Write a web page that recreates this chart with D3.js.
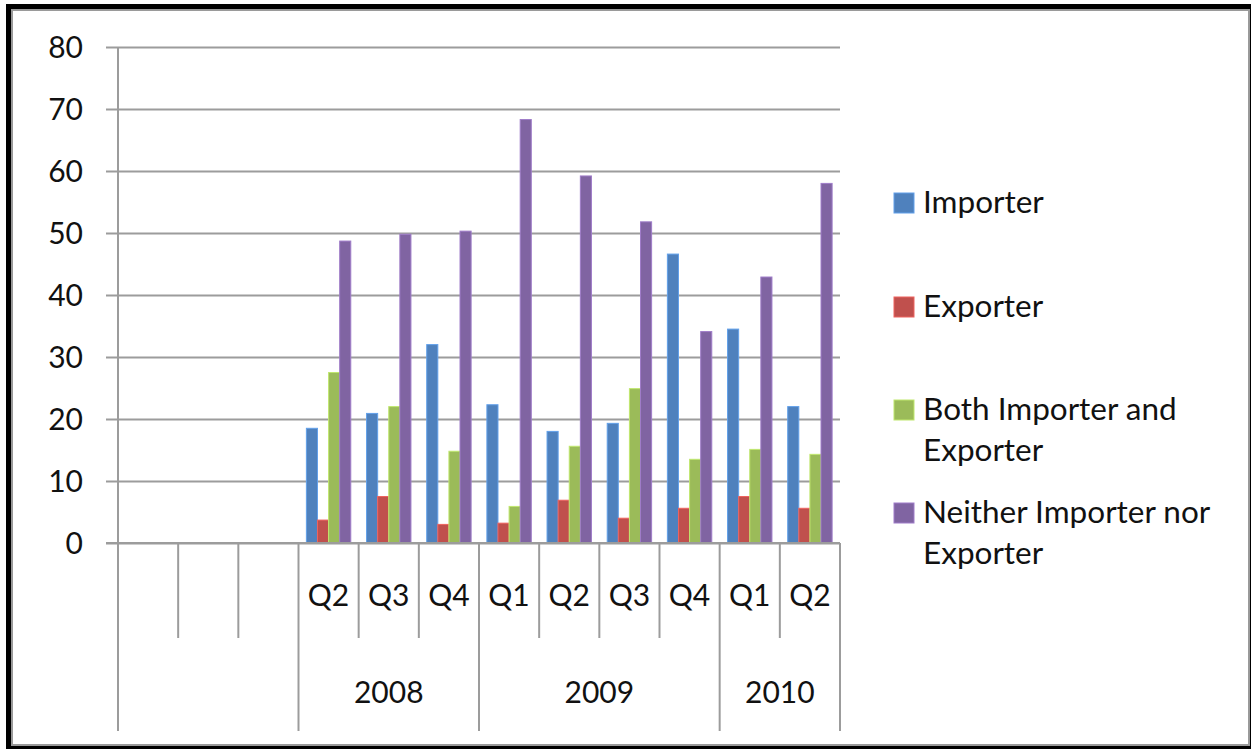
<!DOCTYPE html>
<html>
<head>
<meta charset="utf-8">
<script src="https://cdn.jsdelivr.net/npm/d3@7"></script>
<style>
  html, body { margin: 0; padding: 0; background: #fff; }
  svg { display: block; }
  text { font-family: Lato, "Open Sans", sans-serif; fill: #111; }
</style>
</head>
<body>
<svg id="chart" width="1251" height="749"></svg>
<script>
// Category axis: quarter per slot, plus the year each slot belongs to
const quarterLabels = ["", "", "", "Q2", "Q3", "Q4", "Q1", "Q2", "Q3", "Q4", "Q1", "Q2"];
const yearOf        = ["", "", "", "2008", "2008", "2008", "2009", "2009", "2009", "2009", "2010", "2010"];

// Series values (percent)
const importer = [null, null, null, 18.5, 20.9, 32.0, 22.3, 18.0, 19.3, 46.6, 34.5, 22.0];
const exporter = [null, null, null, 3.7, 7.5, 3.0, 3.2, 6.9, 4.0, 5.6, 7.5, 5.6];
const both     = [null, null, null, 27.5, 22.0, 14.8, 5.9, 15.6, 24.9, 13.5, 15.1, 14.3];
const neither  = [null, null, null, 48.7, 49.8, 50.3, 68.3, 59.2, 51.8, 34.1, 42.9, 58.0];

const seriesNames  = ["Importer", "Exporter", "Both Importer and Exporter", "Neither Importer nor Exporter"];
const legendLines  = [["Importer"], ["Exporter"], ["Both Importer and", "Exporter"], ["Neither Importer nor", "Exporter"]];
const seriesColors = ["#4F81BD", "#C0504D", "#9BBB59", "#8064A2"];
const yTicks = [0, 10, 20, 30, 40, 50, 60, 70, 80];

const seriesValues = [importer, exporter, both, neither];

const svg = d3.select("#chart");
const W = 1251, H = 749;

// Frame: black outer band with a grey inner rule
svg.append("rect").attr("x", 6).attr("y", 4).attr("width", W - 6).attr("height", H - 4).attr("fill", "#000");
svg.append("rect").attr("x", 12).attr("y", 10).attr("width", 1237).attr("height", 735)
  .attr("fill", "#fff").attr("stroke", "#9a9a9a").attr("stroke-width", 2);

const plotLeft = 118, plotRight = 840, plotTop = 47, plotBottom = 543;
const gridColor = "#9c9c9c";
const axisFont = 30, legendFont = 31.5;

const x = d3.scaleBand().domain(d3.range(quarterLabels.length)).range([plotLeft, plotRight]);
const xs = d3.scaleBand().domain(d3.range(seriesNames.length)).range([0, x.bandwidth()]).paddingOuter(0.71);
const y = d3.scaleLinear().domain([0, 80]).range([plotBottom, plotTop]);

// Horizontal gridlines with outer ticks
const yAxis = d3.axisLeft(y).tickValues(yTicks).tickSize(-(plotRight - plotLeft)).tickPadding(22);
const gy = svg.append("g").attr("transform", `translate(${plotLeft},0)`).call(yAxis);
gy.select(".domain").remove();
gy.selectAll(".tick line").attr("stroke", gridColor).attr("stroke-width", 2).attr("x1", -12);
gy.selectAll(".tick text").attr("font-size", axisFont).attr("fill", "#111").attr("x", -35).attr("dy", "0.36em");

// Value axis line
svg.append("line").attr("x1", plotLeft).attr("x2", plotLeft).attr("y1", plotTop).attr("y2", plotBottom)
  .attr("stroke", gridColor).attr("stroke-width", 2);

// Bars
const bars = svg.append("g");
seriesValues.forEach((vals, s) => {
  const col = seriesColors[s];
  bars.append("g").selectAll("rect")
    .data(vals.map((v, i) => ({ v, i })).filter(d => d.v !== null))
    .join("rect")
    .attr("x", d => x(d.i) + xs(s))
    .attr("y", d => y(d.v))
    .attr("width", xs.bandwidth())
    .attr("height", d => y(0) - y(d.v))
    .attr("fill", col)
    .attr("stroke", d3.color(col).brighter(0.6))
    .attr("stroke-width", 1);
});

// Category axis line
svg.append("line").attr("x1", plotLeft - 12).attr("x2", plotRight).attr("y1", plotBottom).attr("y2", plotBottom)
  .attr("stroke", gridColor).attr("stroke-width", 2);

// Multi-level category dividers: short between quarters, long between years
const shortEnd = 638, longEnd = 731;
const boundaries = d3.range(quarterLabels.length + 1);
svg.append("g").selectAll("line").data(boundaries).join("line")
  .attr("x1", i => i < quarterLabels.length ? x(i) : plotRight)
  .attr("x2", i => i < quarterLabels.length ? x(i) : plotRight)
  .attr("y1", plotBottom)
  .attr("y2", i => (i === 0 || i === quarterLabels.length || yearOf[i] !== yearOf[i - 1]) ? longEnd : shortEnd)
  .attr("stroke", gridColor).attr("stroke-width", 2);

// Quarter labels
svg.append("g").selectAll("text").data(quarterLabels.map((q, i) => ({ q, i })).filter(d => d.q))
  .join("text")
  .attr("x", d => x(d.i) + x.bandwidth() / 2)
  .attr("y", 606)
  .attr("text-anchor", "middle")
  .attr("font-size", axisFont)
  .text(d => d.q);

// Year labels centered over their run of quarters
const yearRuns = d3.groups(yearOf.map((yr, i) => ({ yr, i })), d => d.yr).filter(([yr]) => yr);
svg.append("g").selectAll("text").data(yearRuns).join("text")
  .attr("x", ([, items]) => (x(items[0].i) + x(items[items.length - 1].i) + x.bandwidth()) / 2)
  .attr("y", 703)
  .attr("text-anchor", "middle")
  .attr("font-size", axisFont)
  .text(([yr]) => yr);

// Legend
const legendTops = [193, 297, 400, 503];
const lineGap = 41;
const legend = svg.append("g");
legendLines.forEach((lines, s) => {
  const top = legendTops[s];
  legend.append("rect").attr("x", 894).attr("y", top).attr("width", 20).attr("height", 20)
    .attr("fill", seriesColors[s]).attr("stroke", d3.color(seriesColors[s]).brighter(0.6)).attr("stroke-width", 1);
  const t = legend.append("text").attr("x", 923).attr("y", top + 20).attr("font-size", legendFont);
  lines.forEach((ln, k) => {
    t.append("tspan").attr("x", 923).attr("dy", k === 0 ? 0 : lineGap).text(ln);
  });
});
</script>
</body>
</html>
